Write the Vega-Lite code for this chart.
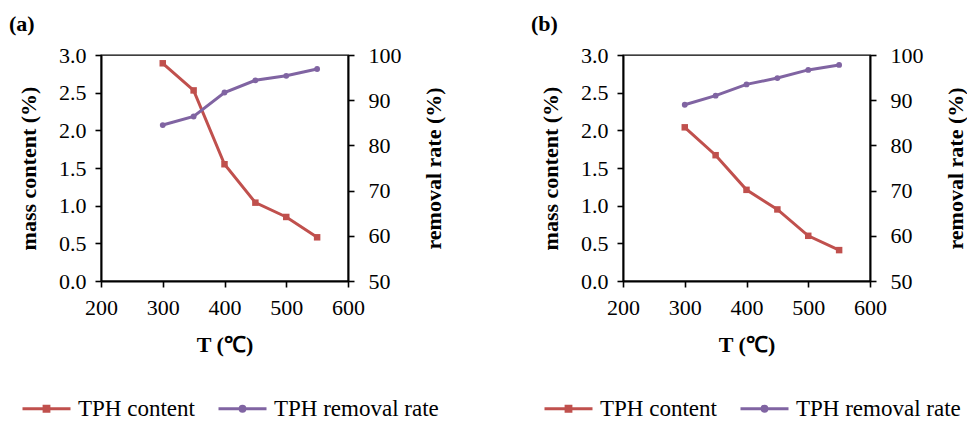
{
  "$schema": "https://vega.github.io/schema/vega-lite/v6.json",
  "background": "white",
  "padding": {"left": 8, "top": 12, "right": 0, "bottom": 0},
  "datasets": {
    "a": [
      {"T": 300, "series": "TPH content", "value": 2.89},
      {"T": 350, "series": "TPH content", "value": 2.53},
      {"T": 400, "series": "TPH content", "value": 1.55},
      {"T": 450, "series": "TPH content", "value": 1.04},
      {"T": 500, "series": "TPH content", "value": 0.85},
      {"T": 550, "series": "TPH content", "value": 0.58},
      {"T": 300, "series": "TPH removal rate", "value": 84.5},
      {"T": 350, "series": "TPH removal rate", "value": 86.4},
      {"T": 400, "series": "TPH removal rate", "value": 91.7},
      {"T": 450, "series": "TPH removal rate", "value": 94.4},
      {"T": 500, "series": "TPH removal rate", "value": 95.4},
      {"T": 550, "series": "TPH removal rate", "value": 96.9}
    ],
    "b": [
      {"T": 300, "series": "TPH content", "value": 2.04},
      {"T": 350, "series": "TPH content", "value": 1.67},
      {"T": 400, "series": "TPH content", "value": 1.21},
      {"T": 450, "series": "TPH content", "value": 0.95},
      {"T": 500, "series": "TPH content", "value": 0.60},
      {"T": 550, "series": "TPH content", "value": 0.41},
      {"T": 300, "series": "TPH removal rate", "value": 89.0},
      {"T": 350, "series": "TPH removal rate", "value": 91.0},
      {"T": 400, "series": "TPH removal rate", "value": 93.5},
      {"T": 450, "series": "TPH removal rate", "value": 94.9},
      {"T": 500, "series": "TPH removal rate", "value": 96.7},
      {"T": 550, "series": "TPH removal rate", "value": 97.8}
    ]
  },
  "hconcat": [
    {
      "data": {"name": "a"},
      "title": {"text": "(a)", "anchor": "start", "frame": "group", "dx": -92, "offset": 8, "font": "Liberation Serif", "fontSize": 22, "fontWeight": "bold", "color": "black"},
      "width": 247,
      "height": 226,
      "layer": [
        {
          "transform": [{"filter": "datum.series === 'TPH content'"}],
          "encoding": {
            "x": {"field": "T", "type": "quantitative", "scale": {"domain": [200, 600], "nice": false, "zero": false}, "axis": {"title": "T (℃)", "values": [200, 300, 400, 500, 600], "labelPadding": 10, "titlePadding": 16}},
            "y": {"field": "value", "type": "quantitative", "scale": {"domain": [0, 3], "nice": false}, "axis": {"title": "mass content (%)", "values": [0, 0.5, 1, 1.5, 2, 2.5, 3], "format": ".1f", "labelPadding": 9, "titlePadding": 18}},
            "color": {"field": "series", "type": "nominal", "scale": {"domain": ["TPH content", "TPH removal rate"], "range": ["#C0504D", "#8064A2"]},
              "legend": {"encode": {"symbols": {"update": {
                "shape": {"signal": "datum.value === 'TPH content' ? 'M-1,0H1M-0.1,-0.1H0.1V0.1H-0.1Z' : 'M-1,0H1M0.1,0A0.1,0.1,0,1,1,-0.1,0A0.1,0.1,0,1,1,0.1,0Z'"},
                "fill": {"signal": "datum.value === 'TPH content' ? '#C0504D' : '#8064A2'"},
                "stroke": {"signal": "datum.value === 'TPH content' ? '#C0504D' : '#8064A2'"},
                "strokeWidth": {"value": 3},
                "opacity": {"value": 1}}}}}}
          },
          "layer": [
            {"mark": {"type": "line", "strokeWidth": 3}},
            {"mark": {"type": "square", "size": 42, "opacity": 1, "filled": true}}
          ]
        },
        {
          "transform": [{"filter": "datum.series === 'TPH removal rate'"}],
          "encoding": {
            "x": {"field": "T", "type": "quantitative", "scale": {"domain": [200, 600], "nice": false, "zero": false}, "axis": {"title": "T (℃)", "values": [200, 300, 400, 500, 600], "labelPadding": 10, "titlePadding": 16}},
            "y": {"field": "value", "type": "quantitative", "scale": {"domain": [50, 100], "nice": false, "zero": false}, "axis": {"orient": "right", "title": "removal rate (%)", "values": [50, 60, 70, 80, 90, 100], "labelPadding": 14, "titlePadding": 22, "titleAngle": 270, "titleBaseline": "top"}},
            "color": {"field": "series", "type": "nominal", "scale": {"domain": ["TPH content", "TPH removal rate"], "range": ["#C0504D", "#8064A2"]},
              "legend": {"encode": {"symbols": {"update": {
                "shape": {"signal": "datum.value === 'TPH content' ? 'M-1,0H1M-0.1,-0.1H0.1V0.1H-0.1Z' : 'M-1,0H1M0.1,0A0.1,0.1,0,1,1,-0.1,0A0.1,0.1,0,1,1,0.1,0Z'"},
                "fill": {"signal": "datum.value === 'TPH content' ? '#C0504D' : '#8064A2'"},
                "stroke": {"signal": "datum.value === 'TPH content' ? '#C0504D' : '#8064A2'"},
                "strokeWidth": {"value": 3},
                "opacity": {"value": 1}}}}}}
          },
          "layer": [
            {"mark": {"type": "line", "strokeWidth": 3}},
            {"mark": {"type": "circle", "size": 34, "opacity": 1}}
          ]
        }
      ],
      "resolve": {"scale": {"y": "independent"}}
    },
    {
      "data": {"name": "b"},
      "title": {"text": "(b)", "anchor": "start", "frame": "group", "dx": -92, "offset": 8, "font": "Liberation Serif", "fontSize": 22, "fontWeight": "bold", "color": "black"},
      "width": 247,
      "height": 226,
      "layer": [
        {
          "transform": [{"filter": "datum.series === 'TPH content'"}],
          "encoding": {
            "x": {"field": "T", "type": "quantitative", "scale": {"domain": [200, 600], "nice": false, "zero": false}, "axis": {"title": "T (℃)", "values": [200, 300, 400, 500, 600], "labelPadding": 10, "titlePadding": 16}},
            "y": {"field": "value", "type": "quantitative", "scale": {"domain": [0, 3], "nice": false}, "axis": {"title": "mass content (%)", "values": [0, 0.5, 1, 1.5, 2, 2.5, 3], "format": ".1f", "labelPadding": 9, "titlePadding": 18}},
            "color": {"field": "series", "type": "nominal", "scale": {"domain": ["TPH content", "TPH removal rate"], "range": ["#C0504D", "#8064A2"]},
              "legend": {"encode": {"symbols": {"update": {
                "shape": {"signal": "datum.value === 'TPH content' ? 'M-1,0H1M-0.1,-0.1H0.1V0.1H-0.1Z' : 'M-1,0H1M0.1,0A0.1,0.1,0,1,1,-0.1,0A0.1,0.1,0,1,1,0.1,0Z'"},
                "fill": {"signal": "datum.value === 'TPH content' ? '#C0504D' : '#8064A2'"},
                "stroke": {"signal": "datum.value === 'TPH content' ? '#C0504D' : '#8064A2'"},
                "strokeWidth": {"value": 3},
                "opacity": {"value": 1}}}}}}
          },
          "layer": [
            {"mark": {"type": "line", "strokeWidth": 3}},
            {"mark": {"type": "square", "size": 42, "opacity": 1, "filled": true}}
          ]
        },
        {
          "transform": [{"filter": "datum.series === 'TPH removal rate'"}],
          "encoding": {
            "x": {"field": "T", "type": "quantitative", "scale": {"domain": [200, 600], "nice": false, "zero": false}, "axis": {"title": "T (℃)", "values": [200, 300, 400, 500, 600], "labelPadding": 10, "titlePadding": 16}},
            "y": {"field": "value", "type": "quantitative", "scale": {"domain": [50, 100], "nice": false, "zero": false}, "axis": {"orient": "right", "title": "removal rate (%)", "values": [50, 60, 70, 80, 90, 100], "labelPadding": 14, "titlePadding": 22, "titleAngle": 270, "titleBaseline": "top"}},
            "color": {"field": "series", "type": "nominal", "scale": {"domain": ["TPH content", "TPH removal rate"], "range": ["#C0504D", "#8064A2"]},
              "legend": {"encode": {"symbols": {"update": {
                "shape": {"signal": "datum.value === 'TPH content' ? 'M-1,0H1M-0.1,-0.1H0.1V0.1H-0.1Z' : 'M-1,0H1M0.1,0A0.1,0.1,0,1,1,-0.1,0A0.1,0.1,0,1,1,0.1,0Z'"},
                "fill": {"signal": "datum.value === 'TPH content' ? '#C0504D' : '#8064A2'"},
                "stroke": {"signal": "datum.value === 'TPH content' ? '#C0504D' : '#8064A2'"},
                "strokeWidth": {"value": 3},
                "opacity": {"value": 1}}}}}}
          },
          "layer": [
            {"mark": {"type": "line", "strokeWidth": 3}},
            {"mark": {"type": "circle", "size": 34, "opacity": 1}}
          ]
        }
      ],
      "resolve": {"scale": {"y": "independent"}}
    }
  ],
  "spacing": 275,
  "bounds": "flush",
  "resolve": {"scale": {"color": "independent"}, "legend": {"color": "independent"}},
  "config": {
    "view": {"stroke": "black", "strokeWidth": 1.3},
    "font": "Liberation Serif",
    "axis": {
      "grid": false,
      "domainColor": "black",
      "domainWidth": 2,
      "tickColor": "black",
      "tickWidth": 1.6,
      "tickSize": 6,
      "labelFont": "Liberation Serif",
      "labelFontSize": 22,
      "labelColor": "black",
      "labelFlush": false,
      "labelOverlap": false,
      "titleFont": "Liberation Serif",
      "titleFontSize": 22,
      "titleFontWeight": "bold",
      "titleColor": "black"
    },
    "legend": {
      "orient": "none",
      "legendX": -80,
      "legendY": 328,
      "direction": "horizontal",
      "title": null,
      "labelFont": "Liberation Serif",
      "labelFontSize": 23,
      "labelColor": "black",
      "labelLimit": 400,
      "labelOffset": 6,
      "columnPadding": 17,
      "symbolSize": 2304,
      "symbolStrokeWidth": 3,
      "symbolOpacity": 1
    }
  }
}
